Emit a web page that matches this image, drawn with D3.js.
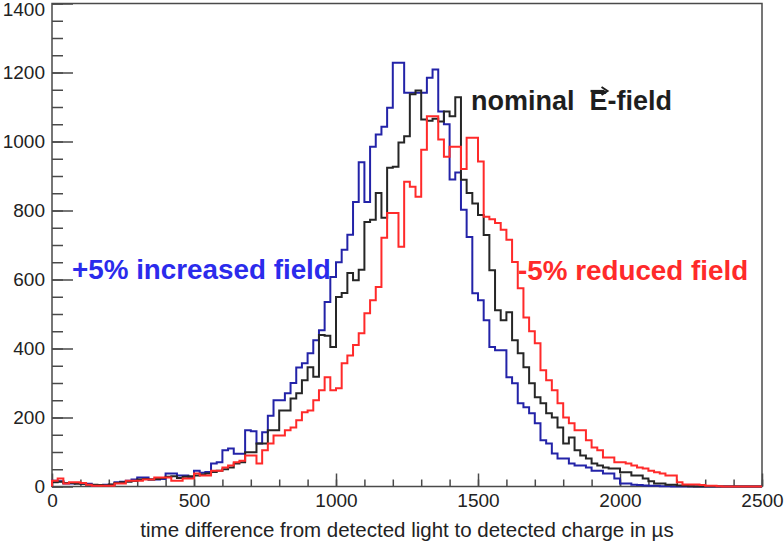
<!DOCTYPE html>
<html>
<head>
<meta charset="utf-8">
<script src="https://cdn.jsdelivr.net/npm/d3@7"></script>
<style>
  html, body { margin: 0; padding: 0; background: #fff; }
  svg { display: block; font-family: "Liberation Sans", Arial, Helvetica, sans-serif; }
</style>
</head>
<body>
<svg id="chart" width="784" height="548"></svg>
<script>
// Drift-time histograms: 125 bins of 20 µs from 0 to 2500 µs
const binWidth = 20;
const xDomain = [0, 2500];
const yDomain = [0, 1400];

const increasedField = [
  17, 15, 9, 9, 10, 8, 8, 3, 4, 5, 5, 12, 14, 17, 20, 26, 26, 20, 20, 22, 38, 38, 32, 32, 26,
  46, 40, 42, 67, 70, 105, 110, 95, 95,
  163, 160, 125, 157, 205, 250, 250, 270, 300, 345, 357, 386, 424, 453, 535, 607, 650, 686, 730, 825, 940, 825, 985, 1020, 1043, 1098,
  1228, 1228, 1141, 1141, 1141, 1141, 1185, 1209, 1087, 1050,
  890, 910, 802, 723, 560, 540, 482, 404, 395, 395,
  317, 299, 241, 230, 212, 183, 134, 125, 96, 81,
  81, 67, 61, 61, 55, 46, 46, 38, 38, 23,
  9, 9, 5, 4, 3, 2, 2, 1, 1, 0,
  0, 0, 0, 0, 0, 0, 0, 0, 0, 0, 0, 0, 0, 0, 0
];

const nominalField = [
  12, 14, 10, 10, 8, 8, 5, 5, 4, 3, 6, 10, 12, 14, 16, 20, 22, 20, 22, 25, 28, 30, 25, 28, 30,
  32, 35, 38, 42, 46, 50, 55, 67, 70,
  99, 99, 125, 125, 163, 163, 220, 220, 255, 270, 308, 346, 318, 439, 437, 404, 549, 561, 619, 598, 628, 767, 773, 851, 779, 924,
  927, 997, 1015, 1137, 1148, 1064, 1060, 1066, 1058, 1087,
  1073, 1128, 889, 851, 820, 787, 729, 627, 511, 482,
  505, 424, 386, 346, 299, 259, 241, 212, 200, 171,
  125, 142, 105, 90, 81, 67, 61, 55, 52, 52,
  41, 41, 32, 32, 23, 15, 9, 9, 5, 5, 3, 2, 1,
  0, 0, 0, 0, 0, 0, 0, 0, 0, 0, 0, 0
];

const reducedField = [
  17, 23, 9, 12, 12, 10, 5, 2, 2, 2, 2, 9, 9, 17, 17, 17, 20, 20, 26, 26, 26, 17, 17, 23, 23,
  38, 32, 32, 46, 46, 55, 61, 70, 75,
  90, 90, 67, 105, 125, 148, 148, 163, 171, 192, 215, 220, 250, 279, 317, 279, 285, 357, 380, 410, 444, 502, 540, 578, 721, 793,
  793, 695, 883, 869, 840, 976, 1073, 1073, 1006, 956,
  985, 985, 920, 1011, 1011, 942, 782, 775, 764, 744,
  715, 651, 575, 490, 450, 415, 337, 308, 279, 241,
  200, 183, 163, 163, 134, 113, 105, 84, 84, 70,
  70, 67, 61, 55, 52, 46, 41, 38, 32, 32,
  12, 6, 6, 6, 4, 2, 2, 1, 0, 0, 0, 0, 0, 0, 0
];

const xTickValues = [0, 500, 1000, 1500, 2000, 2500];
const xMinorTicks = d3.range(0, 2501, 100);
const yTickValues = [0, 200, 400, 600, 800, 1000, 1200, 1400];
const yMinorTicks = d3.range(0, 1401, 50);

const xTitle = "time difference from detected light to detected charge in \u00b5s";

const series = [
  { name: "+5% increased field", values: increasedField, line: "#2323a8" },
  { name: "nominal", values: nominalField, line: "#262626" },
  { name: "-5% reduced field", values: reducedField, line: "#ff2a2a" }
];

const svg = d3.select("#chart");
const frame = { left: 52, right: 762, top: 3.5, bottom: 486.5 };

const x = d3.scaleLinear().domain(xDomain).range([frame.left, frame.right]);
const y = d3.scaleLinear().domain(yDomain).range([frame.bottom, frame.top]);

const axisColor = "#4a4a4a";
const labelColor = "#222";

// frame
svg.append("rect")
  .attr("x", frame.left).attr("y", frame.top)
  .attr("width", frame.right - frame.left).attr("height", frame.bottom - frame.top)
  .attr("fill", "none").attr("stroke", axisColor).attr("stroke-width", 1.5);

function styleAxis(g) {
  g.select(".domain").remove();
  g.selectAll(".tick line").attr("stroke", axisColor).attr("stroke-width", 1.5);
  g.selectAll(".tick text").attr("fill", labelColor)
    .style("font-family", "\"Liberation Sans\", Arial, Helvetica, sans-serif")
    .style("font-size", "19px");
}

// y axis: minor then major ticks pointing into the frame
svg.append("g").attr("transform", `translate(${frame.left},0)`)
  .call(d3.axisLeft(y).tickValues(yMinorTicks).tickSize(-11).tickFormat(""))
  .call(styleAxis);
const yMajor = svg.append("g").attr("transform", `translate(${frame.left},0)`)
  .call(d3.axisLeft(y).tickValues(yTickValues).tickSize(-21).tickPadding(7).tickFormat(d3.format("d")))
  .call(styleAxis);
// keep the top label inside the page
yMajor.selectAll(".tick text").filter(d => d === yDomain[1]).attr("dy", "0.32em").attr("y", 6);

// x axis
svg.append("g").attr("transform", `translate(0,${frame.bottom})`)
  .call(d3.axisBottom(x).tickValues(xMinorTicks).tickSize(-7).tickFormat(""))
  .call(styleAxis);
svg.append("g").attr("transform", `translate(0,${frame.bottom})`)
  .call(d3.axisBottom(x).tickValues(xTickValues).tickSize(-13).tickPadding(7).tickFormat(d3.format("d")))
  .call(styleAxis);

// axis title
svg.append("text")
  .attr("x", (frame.left + frame.right) / 2).attr("y", 537)
  .attr("text-anchor", "middle")
  .attr("fill", labelColor)
  .style("font-size", "20.5px")
  .text(xTitle);

// step outline of each histogram
function stepPoints(values) {
  const pts = [[x(0), y(0)]];
  values.forEach((v, i) => {
    pts.push([x(i * binWidth), y(v)]);
    pts.push([x((i + 1) * binWidth), y(v)]);
  });
  pts.push([x(values.length * binWidth), y(0)]);
  return pts;
}
const line = d3.line();

const plot = svg.append("g");
series.forEach(s => {
  plot.append("path")
    .attr("d", line(stepPoints(s.values)))
    .attr("fill", "none")
    .attr("stroke", s.line)
    .attr("stroke-width", 2)
    .attr("stroke-linejoin", "miter");
});

// annotations
const annotFont = "27.8px";
svg.append("text")
  .attr("x", 72).attr("y", 279)
  .attr("fill", "#2b2bec")
  .style("font-size", annotFont).style("font-weight", "bold")
  .text("+5% increased field");

svg.append("text")
  .attr("x", 518).attr("y", 280)
  .attr("fill", "#ff2a2a")
  .style("font-size", annotFont).style("font-weight", "bold")
  .text("-5% reduced field");

const nominal = svg.append("text")
  .attr("x", 471).attr("y", 110)
  .attr("fill", "#1e1e1e")
  .style("font-size", "27px").style("font-weight", "bold");
nominal.append("tspan").text("nominal");
const eSpan = nominal.append("tspan").attr("dx", 15).text("E");
nominal.append("tspan").text("-field");

// vector arrow over the E
const eBox = eSpan.node().getBBox();
const ax0 = eBox.x + 1, ax1 = eBox.x + eBox.width - 1, ay = eBox.y + 5;
svg.append("line")
  .attr("x1", ax0).attr("x2", ax1 - 2).attr("y1", ay).attr("y2", ay)
  .attr("stroke", "#1e1e1e").attr("stroke-width", 2.2);
svg.append("path")
  .attr("d", `M${ax1 - 5},${ay - 4} L${ax1 + 1},${ay} L${ax1 - 5},${ay + 4}`)
  .attr("fill", "none").attr("stroke", "#1e1e1e").attr("stroke-width", 2);
</script>
</body>
</html>
